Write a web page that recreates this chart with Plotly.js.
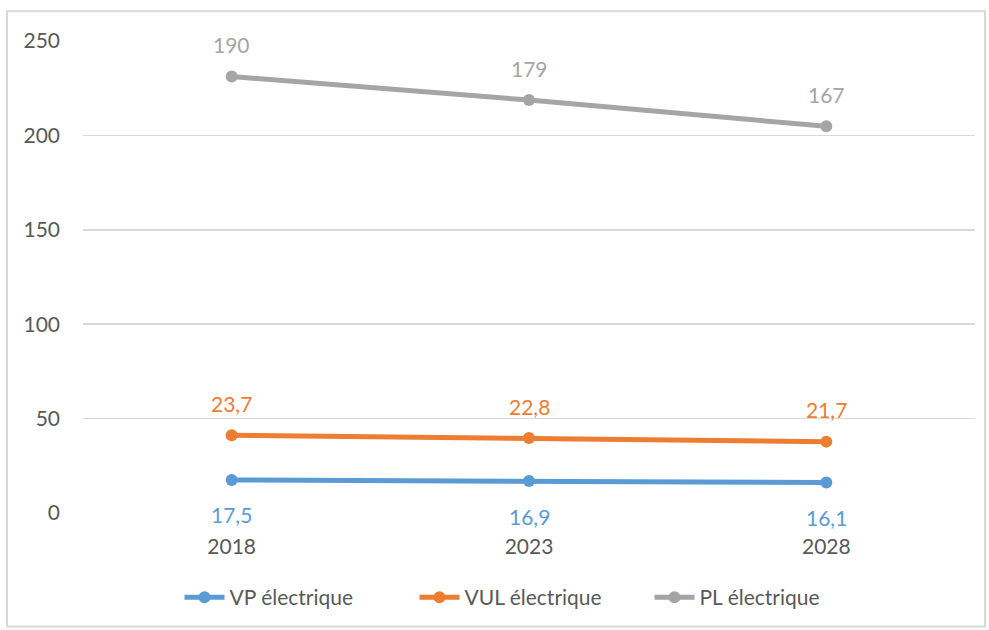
<!DOCTYPE html>
<html>
<head>
<meta charset="utf-8">
<script src="https://cdn.plot.ly/plotly-3.0.1.min.js"></script>
<style>
  html, body { margin: 0; padding: 0; background: #fff; }
  #chart { width: 989px; height: 630px; }
</style>
</head>
<body>
<div id="chart"></div>
<script>
// Data
const years = ['2018', '2023', '2028'];
const seriesNames = ['VP électrique', 'VUL électrique', 'PL électrique'];
const vp = [17.5, 16.9, 16.1];
const vul = [23.7, 22.8, 21.7];
const pl = [190, 179, 167];
const yTicks = [0, 50, 100, 150, 200, 250];

const colors = ['#5B9BD5', '#ED7D31', '#A5A5A5'];
const allSeries = [vp, vul, pl];
const xIdx = years.map((_, i) => i);

// Stacked cumulative values (chart is a stacked line chart)
const cumulative = [];
let running = years.map(() => 0);
allSeries.forEach(s => {
  running = running.map((v, i) => v + s[i]);
  cumulative.push(running.slice());
});

const FONT = 'Lato, "Open Sans", sans-serif';
const FS = 21;

const traces = allSeries.map((s, k) => ({
  type: 'scatter',
  mode: 'lines+markers',
  name: seriesNames[k],
  x: xIdx,
  y: cumulative[k],
  line: { color: colors[k], width: 5 },
  marker: { color: colors[k], size: 12, line: { width: 0 } },
  hoverinfo: 'skip'
}));

const fmt = v => String(v).replace('.', ',');
const annotations = [];
allSeries.forEach((s, k) => {
  s.forEach((v, i) => {
    annotations.push({
      x: xIdx[i], y: cumulative[k][i], xref: 'x', yref: 'y',
      text: fmt(v), showarrow: false,
      xanchor: 'center', yanchor: 'middle',
      yshift: k === 0 ? -35 : 32,
      font: { family: FONT, size: FS, color: colors[k] }
    });
  });
});

const L = 83, R = 14, T = 41, B = 115;
const pw = 989 - L - R, ph = 630 - T - B;

const layout = {
  width: 989, height: 630,
  margin: { l: L, r: R, t: T, b: B, pad: 0 },
  paper_bgcolor: '#ffffff', plot_bgcolor: '#ffffff',
  font: { family: FONT, size: FS, color: '#595959' },
  showlegend: true,
  legend: {
    orientation: 'h', x: (532 - L) / pw, xanchor: 'center', y: -(600 - 515) / ph, yanchor: 'middle',
    traceorder: 'normal', font: { family: FONT, size: FS, color: '#595959' },
    itemwidth: 40, entrywidth: 180, entrywidthmode: 'pixels'
  },
  xaxis: {
    range: [-0.5, 2.5], tickvals: xIdx, ticktext: years,
    showgrid: false, zeroline: false, showline: false,
    ticks: '', ticklabelstandoff: 19,
    tickfont: { family: FONT, size: FS, color: '#595959' }
  },
  yaxis: {
    range: [0, 250], tickvals: yTicks, ticktext: yTicks.map(String),
    showgrid: true, gridcolor: '#D9D9D9', gridwidth: 1.5,
    zeroline: false, showline: false, ticks: '', ticklabelstandoff: 22,
    tickfont: { family: FONT, size: FS, color: '#595959' }
  },
  annotations: annotations,
  shapes: [{
    type: 'rect', xref: 'paper', yref: 'paper',
    x0: (7 - L) / pw, x1: (985 - L) / pw,
    y0: (515 - 629) / ph, y1: (515 - 11) / ph,
    line: { color: '#D9D9D9', width: 2 }, fillcolor: 'rgba(0,0,0,0)', layer: 'below'
  }]
};

Plotly.newPlot('chart', traces, layout, { displayModeBar: false, staticPlot: true });
</script>
</body>
</html>
